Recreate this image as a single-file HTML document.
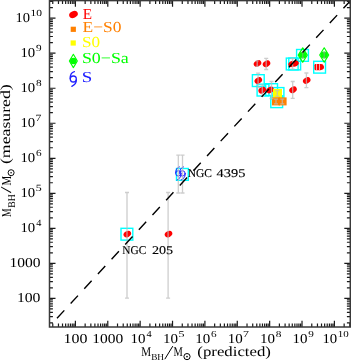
<!DOCTYPE html><html><head><meta charset="utf-8"><style>html,body{margin:0;padding:0;background:#fff;overflow:hidden}svg{display:block;will-change:transform}text{font-family:"Liberation Serif",serif;text-rendering:geometricPrecision}</style></head><body><svg width="351" height="361" viewBox="0 0 351 361"><rect x="0" y="0" width="351" height="361" fill="#fff"/><rect x="252.40" y="74.70" width="11.8" height="11.8" fill="none" stroke="#00ffff" stroke-width="1.4"/><rect x="257.10" y="84.20" width="11.8" height="11.8" fill="none" stroke="#00ffff" stroke-width="1.4"/><rect x="265.70" y="83.70" width="11.8" height="11.8" fill="none" stroke="#00ffff" stroke-width="1.4"/><rect x="272.10" y="87.60" width="11.8" height="11.8" fill="none" stroke="#00ffff" stroke-width="1.4"/><rect x="270.80" y="95.80" width="11.8" height="11.8" fill="none" stroke="#00ffff" stroke-width="1.4"/><rect x="286.30" y="58.10" width="11.8" height="11.8" fill="none" stroke="#00ffff" stroke-width="1.4"/><rect x="288.80" y="58.10" width="11.8" height="11.8" fill="none" stroke="#00ffff" stroke-width="1.4"/><rect x="296.60" y="49.50" width="11.8" height="11.8" fill="none" stroke="#00ffff" stroke-width="1.4"/><rect x="313.70" y="61.30" width="11.8" height="11.8" fill="none" stroke="#00ffff" stroke-width="1.4"/><rect x="121.00" y="228.30" width="11.8" height="11.8" fill="none" stroke="#00ffff" stroke-width="1.4"/><rect x="176.50" y="168.50" width="11.8" height="11.8" fill="none" stroke="#00ffff" stroke-width="1.4"/><ellipse cx="257.5" cy="63.5" rx="4.0" ry="3.0" transform="rotate(-30 257.5 63.5)" fill="#ff0000"/><ellipse cx="266.5" cy="63.8" rx="4.0" ry="3.0" transform="rotate(-30 266.5 63.8)" fill="#ff0000"/><ellipse cx="258.3" cy="80.5" rx="4.0" ry="3.0" transform="rotate(-30 258.3 80.5)" fill="#ff0000"/><ellipse cx="262.2" cy="90.2" rx="4.0" ry="3.0" transform="rotate(-30 262.2 90.2)" fill="#ff0000"/><ellipse cx="270.0" cy="90.0" rx="4.0" ry="3.0" transform="rotate(-30 270.0 90.0)" fill="#ff0000"/><ellipse cx="291.8" cy="64.0" rx="3.6" ry="2.8" transform="rotate(-30 291.8 64.0)" fill="#ff0000"/><ellipse cx="295.3" cy="63.6" rx="3.6" ry="2.8" transform="rotate(-30 295.3 63.6)" fill="#ff0000"/><ellipse cx="306.7" cy="80.5" rx="4.0" ry="3.0" transform="rotate(-30 306.7 80.5)" fill="#ff0000"/><ellipse cx="293.0" cy="89.8" rx="4.0" ry="3.0" transform="rotate(-30 293.0 89.8)" fill="#ff0000"/><rect x="314.5" y="64.1" width="4" height="6.1" rx="1.2" fill="#ff0000"/><ellipse cx="318.6" cy="67.1" rx="3.6" ry="3.1" transform="rotate(0 318.6 67.1)" fill="#ff0000"/><ellipse cx="320.4" cy="67.1" rx="3.6" ry="3.1" transform="rotate(-15 320.4 67.1)" fill="#ff0000"/><ellipse cx="127.3" cy="234.1" rx="4.0" ry="3.0" transform="rotate(-30 127.3 234.1)" fill="#ff0000"/><ellipse cx="168.5" cy="234.1" rx="4.0" ry="3.0" transform="rotate(-30 168.5 234.1)" fill="#ff0000"/><rect x="273.00" y="89.00" width="9" height="9" fill="#ffff00"/><rect x="272.00" y="97.40" width="8" height="8" fill="#ff8000"/><rect x="278.60" y="97.40" width="8" height="8" fill="#ff8000"/><path d="M257.2,60.8V66.3M255.7,60.8H258.7M255.7,66.3H258.7" stroke="#bcbcbc" stroke-width="1.3" fill="none" stroke-opacity="0.75"/><path d="M266.2,58.4V69.5M264.2,58.4H268.2M264.2,69.5H268.2" stroke="#bcbcbc" stroke-width="1.3" fill="none" stroke-opacity="0.75"/><path d="M258.1,73.2V87.5M256.1,73.2H260.1M256.1,87.5H260.1" stroke="#bcbcbc" stroke-width="1.3" fill="none" stroke-opacity="0.75"/><path d="M271.5,81.5V98.5M269.5,81.5H273.5M269.5,98.5H273.5" stroke="#bcbcbc" stroke-width="1.3" fill="none" stroke-opacity="0.75"/><path d="M262.3,84.8V96.0M260.55,84.8H264.05M260.55,96.0H264.05" stroke="#bcbcbc" stroke-width="1.3" fill="none" stroke-opacity="0.75"/><path d="M277.3,90.6V96.3M275.3,90.6H279.3M275.3,96.3H279.3" stroke="#bcbcbc" stroke-width="1.3" fill="none" stroke-opacity="0.75"/><path d="M276.0,99.1V103.8M274.0,99.1H278.0M274.0,103.8H278.0" stroke="#bcbcbc" stroke-width="1.3" fill="none" stroke-opacity="0.75"/><path d="M282.3,99.1V103.8M280.3,99.1H284.3M280.3,103.8H284.3" stroke="#bcbcbc" stroke-width="1.3" fill="none" stroke-opacity="0.75"/><path d="M292.6,58.5V69.2M290.6,58.5H294.6M290.6,69.2H294.6" stroke="#bcbcbc" stroke-width="1.3" fill="none" stroke-opacity="0.75"/><path d="M306.4,73.0V87.6M304.4,73.0H308.4M304.4,87.6H308.4" stroke="#bcbcbc" stroke-width="1.3" fill="none" stroke-opacity="0.75"/><path d="M292.7,81.5V98.4M290.7,81.5H294.7M290.7,98.4H294.7" stroke="#bcbcbc" stroke-width="1.3" fill="none" stroke-opacity="0.75"/><path d="M316.5,64.6V69.6M316.1,64.6H316.9M316.1,69.6H316.9" stroke="#f4d4d4" stroke-width="0.8" fill="none"/><path d="M319.5,64.6V69.6M319.1,64.6H319.9M319.1,69.6H319.9" stroke="#f4d4d4" stroke-width="0.8" fill="none"/><path d="M127.0,192.5V298.2M125.0,192.5H129.0M125.0,298.2H129.0" stroke="#bcbcbc" stroke-width="1.3" fill="none" stroke-opacity="0.75"/><path d="M168.1,192.5V298.2M166.1,192.5H170.1M166.1,298.2H170.1" stroke="#bcbcbc" stroke-width="1.3" fill="none" stroke-opacity="0.75"/><ellipse cx="302.75" cy="55.1" rx="3.78" ry="3.46" fill="#00ff00"/><path d="M302.75,47.9L307.25,55.1L302.75,62.300000000000004L298.25,55.1Z" fill="none" stroke="#00ff00" stroke-width="1.2" stroke-linejoin="round"/><path d="M302.75,52.6V57.6M301.45,52.6H304.05M301.45,57.6H304.05" stroke="#80b080" stroke-width="1.1" fill="none" stroke-opacity="0.75"/><ellipse cx="324.2" cy="55.0" rx="3.78" ry="3.46" fill="#00ff00"/><path d="M324.2,47.8L328.7,55.0L324.2,62.2L319.7,55.0Z" fill="none" stroke="#00ff00" stroke-width="1.2" stroke-linejoin="round"/><path d="M324.2,52.6V57.6M322.9,52.6H325.5M322.9,57.6H325.5" stroke="#80b080" stroke-width="1.1" fill="none" stroke-opacity="0.75"/><g transform="translate(178.4 173.4) scale(0.9)" fill="none" stroke="#2020ff" stroke-width="1.11" stroke-linecap="round"><path d="M1.1,-7.3 C-1.8,-6.6 -3.2,-3.6 -3.1,-0.3"/><circle cx="0" cy="0" r="3"/><path d="M3.0,1 C3.2,4.2 0.8,6.2 -1.5,7.3"/></g><g transform="translate(182.5 173.4) scale(0.9)" fill="none" stroke="#2020ff" stroke-width="1.11" stroke-linecap="round"><path d="M1.1,-7.3 C-1.8,-6.6 -3.2,-3.6 -3.1,-0.3"/><circle cx="0" cy="0" r="3"/><path d="M3.0,1 C3.2,4.2 0.8,6.2 -1.5,7.3"/></g><path d="M178.3,155.2V193.0M176.3,155.2H180.3M176.3,193.0H180.3" stroke="#bcbcbc" stroke-width="1.3" fill="none" stroke-opacity="0.75"/><path d="M182.5,155.2V193.0M180.5,155.2H184.5M180.5,193.0H184.5" stroke="#bcbcbc" stroke-width="1.3" fill="none" stroke-opacity="0.75"/><path d="M57.0,318.3L350.0,1.2" stroke="#000" stroke-width="1.4" stroke-dasharray="10.8 9.3" fill="none"/><path d="M52.77,327.0V323.6M52.77,0.6V4.0M49.5,322.84H52.9M350.3,322.84H346.90000000000003M58.47,327.0V323.6M58.47,0.6V4.0M49.5,316.67H52.9M350.3,316.67H346.90000000000003M62.52,327.0V323.6M62.52,0.6V4.0M49.5,312.30H52.9M350.3,312.30H346.90000000000003M65.65,327.0V323.6M65.65,0.6V4.0M49.5,308.90H52.9M350.3,308.90H346.90000000000003M68.22,327.0V323.6M68.22,0.6V4.0M49.5,306.13H52.9M350.3,306.13H346.90000000000003M70.39,327.0V323.6M70.39,0.6V4.0M49.5,303.78H52.9M350.3,303.78H346.90000000000003M72.26,327.0V323.6M72.26,0.6V4.0M49.5,301.75H52.9M350.3,301.75H346.90000000000003M73.92,327.0V323.6M73.92,0.6V4.0M49.5,299.96H52.9M350.3,299.96H346.90000000000003M75.40,327.0V320.8M75.40,0.6V6.8M49.5,298.36H55.5M350.3,298.36H344.3M85.15,327.0V323.6M85.15,0.6V4.0M49.5,287.82H52.9M350.3,287.82H346.90000000000003M90.85,327.0V323.6M90.85,0.6V4.0M49.5,281.65H52.9M350.3,281.65H346.90000000000003M94.89,327.0V323.6M94.89,0.6V4.0M49.5,277.28H52.9M350.3,277.28H346.90000000000003M98.03,327.0V323.6M98.03,0.6V4.0M49.5,273.88H52.9M350.3,273.88H346.90000000000003M100.59,327.0V323.6M100.59,0.6V4.0M49.5,271.11H52.9M350.3,271.11H346.90000000000003M102.76,327.0V323.6M102.76,0.6V4.0M49.5,268.76H52.9M350.3,268.76H346.90000000000003M104.64,327.0V323.6M104.64,0.6V4.0M49.5,266.73H52.9M350.3,266.73H346.90000000000003M106.29,327.0V323.6M106.29,0.6V4.0M49.5,264.94H52.9M350.3,264.94H346.90000000000003M107.78,327.0V320.8M107.78,0.6V6.8M49.5,263.34H55.5M350.3,263.34H344.3M117.52,327.0V323.6M117.52,0.6V4.0M49.5,252.80H52.9M350.3,252.80H346.90000000000003M123.22,327.0V323.6M123.22,0.6V4.0M49.5,246.63H52.9M350.3,246.63H346.90000000000003M127.27,327.0V323.6M127.27,0.6V4.0M49.5,242.26H52.9M350.3,242.26H346.90000000000003M130.40,327.0V323.6M130.40,0.6V4.0M49.5,238.86H52.9M350.3,238.86H346.90000000000003M132.97,327.0V323.6M132.97,0.6V4.0M49.5,236.09H52.9M350.3,236.09H346.90000000000003M135.14,327.0V323.6M135.14,0.6V4.0M49.5,233.74H52.9M350.3,233.74H346.90000000000003M137.01,327.0V323.6M137.01,0.6V4.0M49.5,231.71H52.9M350.3,231.71H346.90000000000003M138.67,327.0V323.6M138.67,0.6V4.0M49.5,229.92H52.9M350.3,229.92H346.90000000000003M140.15,327.0V320.8M140.15,0.6V6.8M49.5,228.32H55.5M350.3,228.32H344.3M149.90,327.0V323.6M149.90,0.6V4.0M49.5,217.78H52.9M350.3,217.78H346.90000000000003M155.60,327.0V323.6M155.60,0.6V4.0M49.5,211.61H52.9M350.3,211.61H346.90000000000003M159.64,327.0V323.6M159.64,0.6V4.0M49.5,207.24H52.9M350.3,207.24H346.90000000000003M162.78,327.0V323.6M162.78,0.6V4.0M49.5,203.84H52.9M350.3,203.84H346.90000000000003M165.34,327.0V323.6M165.34,0.6V4.0M49.5,201.07H52.9M350.3,201.07H346.90000000000003M167.51,327.0V323.6M167.51,0.6V4.0M49.5,198.72H52.9M350.3,198.72H346.90000000000003M169.39,327.0V323.6M169.39,0.6V4.0M49.5,196.69H52.9M350.3,196.69H346.90000000000003M171.04,327.0V323.6M171.04,0.6V4.0M49.5,194.90H52.9M350.3,194.90H346.90000000000003M172.53,327.0V320.8M172.53,0.6V6.8M49.5,193.30H55.5M350.3,193.30H344.3M182.27,327.0V323.6M182.27,0.6V4.0M49.5,182.76H52.9M350.3,182.76H346.90000000000003M187.97,327.0V323.6M187.97,0.6V4.0M49.5,176.59H52.9M350.3,176.59H346.90000000000003M192.02,327.0V323.6M192.02,0.6V4.0M49.5,172.22H52.9M350.3,172.22H346.90000000000003M195.15,327.0V323.6M195.15,0.6V4.0M49.5,168.82H52.9M350.3,168.82H346.90000000000003M197.72,327.0V323.6M197.72,0.6V4.0M49.5,166.05H52.9M350.3,166.05H346.90000000000003M199.89,327.0V323.6M199.89,0.6V4.0M49.5,163.70H52.9M350.3,163.70H346.90000000000003M201.76,327.0V323.6M201.76,0.6V4.0M49.5,161.67H52.9M350.3,161.67H346.90000000000003M203.42,327.0V323.6M203.42,0.6V4.0M49.5,159.88H52.9M350.3,159.88H346.90000000000003M204.90,327.0V320.8M204.90,0.6V6.8M49.5,158.28H55.5M350.3,158.28H344.3M214.65,327.0V323.6M214.65,0.6V4.0M49.5,147.74H52.9M350.3,147.74H346.90000000000003M220.35,327.0V323.6M220.35,0.6V4.0M49.5,141.57H52.9M350.3,141.57H346.90000000000003M224.39,327.0V323.6M224.39,0.6V4.0M49.5,137.20H52.9M350.3,137.20H346.90000000000003M227.53,327.0V323.6M227.53,0.6V4.0M49.5,133.80H52.9M350.3,133.80H346.90000000000003M230.09,327.0V323.6M230.09,0.6V4.0M49.5,131.03H52.9M350.3,131.03H346.90000000000003M232.26,327.0V323.6M232.26,0.6V4.0M49.5,128.68H52.9M350.3,128.68H346.90000000000003M234.14,327.0V323.6M234.14,0.6V4.0M49.5,126.65H52.9M350.3,126.65H346.90000000000003M235.79,327.0V323.6M235.79,0.6V4.0M49.5,124.86H52.9M350.3,124.86H346.90000000000003M237.28,327.0V320.8M237.28,0.6V6.8M49.5,123.26H55.5M350.3,123.26H344.3M247.02,327.0V323.6M247.02,0.6V4.0M49.5,112.72H52.9M350.3,112.72H346.90000000000003M252.72,327.0V323.6M252.72,0.6V4.0M49.5,106.55H52.9M350.3,106.55H346.90000000000003M256.77,327.0V323.6M256.77,0.6V4.0M49.5,102.18H52.9M350.3,102.18H346.90000000000003M259.90,327.0V323.6M259.90,0.6V4.0M49.5,98.78H52.9M350.3,98.78H346.90000000000003M262.47,327.0V323.6M262.47,0.6V4.0M49.5,96.01H52.9M350.3,96.01H346.90000000000003M264.64,327.0V323.6M264.64,0.6V4.0M49.5,93.66H52.9M350.3,93.66H346.90000000000003M266.51,327.0V323.6M266.51,0.6V4.0M49.5,91.63H52.9M350.3,91.63H346.90000000000003M268.17,327.0V323.6M268.17,0.6V4.0M49.5,89.84H52.9M350.3,89.84H346.90000000000003M269.65,327.0V320.8M269.65,0.6V6.8M49.5,88.24H55.5M350.3,88.24H344.3M279.40,327.0V323.6M279.40,0.6V4.0M49.5,77.70H52.9M350.3,77.70H346.90000000000003M285.10,327.0V323.6M285.10,0.6V4.0M49.5,71.53H52.9M350.3,71.53H346.90000000000003M289.14,327.0V323.6M289.14,0.6V4.0M49.5,67.16H52.9M350.3,67.16H346.90000000000003M292.28,327.0V323.6M292.28,0.6V4.0M49.5,63.76H52.9M350.3,63.76H346.90000000000003M294.84,327.0V323.6M294.84,0.6V4.0M49.5,60.99H52.9M350.3,60.99H346.90000000000003M297.01,327.0V323.6M297.01,0.6V4.0M49.5,58.64H52.9M350.3,58.64H346.90000000000003M298.89,327.0V323.6M298.89,0.6V4.0M49.5,56.61H52.9M350.3,56.61H346.90000000000003M300.54,327.0V323.6M300.54,0.6V4.0M49.5,54.82H52.9M350.3,54.82H346.90000000000003M302.02,327.0V320.8M302.02,0.6V6.8M49.5,53.22H55.5M350.3,53.22H344.3M311.77,327.0V323.6M311.77,0.6V4.0M49.5,42.68H52.9M350.3,42.68H346.90000000000003M317.47,327.0V323.6M317.47,0.6V4.0M49.5,36.51H52.9M350.3,36.51H346.90000000000003M321.52,327.0V323.6M321.52,0.6V4.0M49.5,32.14H52.9M350.3,32.14H346.90000000000003M324.65,327.0V323.6M324.65,0.6V4.0M49.5,28.74H52.9M350.3,28.74H346.90000000000003M327.22,327.0V323.6M327.22,0.6V4.0M49.5,25.97H52.9M350.3,25.97H346.90000000000003M329.39,327.0V323.6M329.39,0.6V4.0M49.5,23.62H52.9M350.3,23.62H346.90000000000003M331.26,327.0V323.6M331.26,0.6V4.0M49.5,21.59H52.9M350.3,21.59H346.90000000000003M332.92,327.0V323.6M332.92,0.6V4.0M49.5,19.80H52.9M350.3,19.80H346.90000000000003M334.40,327.0V320.8M334.40,0.6V6.8M49.5,18.20H55.5M350.3,18.20H344.3M344.15,327.0V323.6M344.15,0.6V4.0M49.5,7.66H52.9M350.3,7.66H346.90000000000003M349.85,327.0V323.6M349.85,0.6V4.0M49.5,1.49H52.9M350.3,1.49H346.90000000000003" stroke="#1a1a1a" stroke-width="1.2" fill="none"/><rect x="49.5" y="0.6" width="300.80" height="326.40" fill="none" stroke="#3a3a3a" stroke-width="1.5"/><text x="20.40" y="232.00" font-size="13.63" fill="#000" textLength="14.76" lengthAdjust="spacingAndGlyphs">10</text><text x="36.20" y="226.00" font-size="9.57" fill="#000" textLength="5.16" lengthAdjust="spacingAndGlyphs">4</text><text x="20.40" y="197.00" font-size="13.63" fill="#000" textLength="14.76" lengthAdjust="spacingAndGlyphs">10</text><text x="35.71" y="191.00" font-size="9.48" fill="#000" textLength="5.96" lengthAdjust="spacingAndGlyphs">5</text><text x="20.40" y="162.00" font-size="13.63" fill="#000" textLength="14.76" lengthAdjust="spacingAndGlyphs">10</text><text x="35.92" y="156.00" font-size="9.38" fill="#000" textLength="5.62" lengthAdjust="spacingAndGlyphs">6</text><text x="20.40" y="127.00" font-size="13.63" fill="#000" textLength="14.76" lengthAdjust="spacingAndGlyphs">10</text><text x="35.62" y="121.00" font-size="9.62" fill="#000" textLength="5.92" lengthAdjust="spacingAndGlyphs">7</text><text x="20.40" y="92.00" font-size="13.63" fill="#000" textLength="14.76" lengthAdjust="spacingAndGlyphs">10</text><text x="35.97" y="86.00" font-size="9.34" fill="#000" textLength="5.66" lengthAdjust="spacingAndGlyphs">8</text><text x="20.40" y="57.00" font-size="13.63" fill="#000" textLength="14.76" lengthAdjust="spacingAndGlyphs">10</text><text x="36.04" y="51.00" font-size="9.38" fill="#000" textLength="5.62" lengthAdjust="spacingAndGlyphs">9</text><text x="15.42" y="22.00" font-size="13.63" fill="#000" textLength="14.53" lengthAdjust="spacingAndGlyphs">10</text><text x="30.59" y="16.00" font-size="9.34" fill="#000" textLength="11.44" lengthAdjust="spacingAndGlyphs">10</text><text x="9.44" y="267.00" font-size="13.63" fill="#000" textLength="31.06" lengthAdjust="spacingAndGlyphs">1000</text><text x="16.92" y="302.00" font-size="13.63" fill="#000" textLength="23.58" lengthAdjust="spacingAndGlyphs">100</text><text x="63.60" y="343.00" font-size="13.63" fill="#000" textLength="23.91" lengthAdjust="spacingAndGlyphs">100</text><text x="92.31" y="343.00" font-size="13.63" fill="#000" textLength="30.95" lengthAdjust="spacingAndGlyphs">1000</text><text x="130.53" y="343.00" font-size="13.63" fill="#000" textLength="14.99" lengthAdjust="spacingAndGlyphs">10</text><text x="146.55" y="337.00" font-size="9.27" fill="#000" textLength="5.16" lengthAdjust="spacingAndGlyphs">4</text><text x="162.91" y="343.00" font-size="13.63" fill="#000" textLength="14.99" lengthAdjust="spacingAndGlyphs">10</text><text x="178.43" y="337.00" font-size="9.18" fill="#000" textLength="5.96" lengthAdjust="spacingAndGlyphs">5</text><text x="195.28" y="343.00" font-size="13.63" fill="#000" textLength="14.99" lengthAdjust="spacingAndGlyphs">10</text><text x="211.02" y="337.00" font-size="9.08" fill="#000" textLength="5.62" lengthAdjust="spacingAndGlyphs">6</text><text x="227.66" y="343.00" font-size="13.63" fill="#000" textLength="14.99" lengthAdjust="spacingAndGlyphs">10</text><text x="243.09" y="337.00" font-size="9.32" fill="#000" textLength="5.92" lengthAdjust="spacingAndGlyphs">7</text><text x="260.03" y="343.00" font-size="13.63" fill="#000" textLength="14.99" lengthAdjust="spacingAndGlyphs">10</text><text x="275.82" y="337.00" font-size="9.04" fill="#000" textLength="5.66" lengthAdjust="spacingAndGlyphs">8</text><text x="292.41" y="343.00" font-size="13.63" fill="#000" textLength="14.99" lengthAdjust="spacingAndGlyphs">10</text><text x="308.26" y="337.00" font-size="9.08" fill="#000" textLength="5.62" lengthAdjust="spacingAndGlyphs">9</text><text x="322.40" y="343.00" font-size="13.63" fill="#000" textLength="14.76" lengthAdjust="spacingAndGlyphs">10</text><text x="337.73" y="337.00" font-size="9.04" fill="#000" textLength="10.98" lengthAdjust="spacingAndGlyphs">10</text><g transform="translate(141.5 356.0)"><text x="-0.22" y="0.00" font-size="13.29" fill="#000" textLength="9.84" lengthAdjust="spacingAndGlyphs">M</text><text x="9.63" y="4.47" font-size="9.27" fill="#000" textLength="12.84" lengthAdjust="spacingAndGlyphs">BH</text><path d="M23.3,3.2L31.3,-9.9" stroke="#000" stroke-width="1.0" fill="none"/><text x="31.90" y="0.00" font-size="13.29" fill="#000" textLength="9.31" lengthAdjust="spacingAndGlyphs">M</text><circle cx="45.5" cy="0.6" r="3.1" fill="none" stroke="#000" stroke-width="1.0"/><circle cx="45.5" cy="0.6" r="0.85" fill="#000"/><text x="55.86" y="0.04" font-size="13.90" fill="#000" textLength="73.57" lengthAdjust="spacingAndGlyphs">(predicted)</text></g><g transform="translate(10.6 216.7) rotate(-90)"><text x="-0.28" y="0.00" font-size="13.59" fill="#000" textLength="8.56" lengthAdjust="spacingAndGlyphs">M</text><text x="8.92" y="4.17" font-size="10.34" fill="#000" textLength="13.57" lengthAdjust="spacingAndGlyphs">BH</text><text x="23.40" y="0.45" font-size="15.10" fill="#000" textLength="6.90" lengthAdjust="spacingAndGlyphs">/</text><text x="31.19" y="0.00" font-size="13.59" fill="#000" textLength="9.63" lengthAdjust="spacingAndGlyphs">M</text><circle cx="44.0" cy="0.5" r="3.0" fill="none" stroke="#000" stroke-width="0.95"/><circle cx="44.0" cy="0.5" r="0.8" fill="#000"/><text x="52.62" y="-0.26" font-size="13.90" fill="#000" textLength="79.86" lengthAdjust="spacingAndGlyphs">(measured)</text></g><ellipse cx="73.5" cy="14.5" rx="4.5" ry="3.3" transform="rotate(-25 73.5 14.5)" fill="#ff0000"/><text x="82.66" y="19.00" font-size="15.30" fill="#ff0000" textLength="9.30" lengthAdjust="spacingAndGlyphs">E</text><rect x="70.70" y="26.70" width="5.2" height="5.2" fill="#ff8000"/><text x="82.60" y="32.00" font-size="15.30" fill="#ff8000" textLength="38.97" lengthAdjust="spacingAndGlyphs">E&#8722;S0</text><rect x="70.60" y="40.40" width="5.2" height="5.2" fill="#ffff00"/><text x="81.95" y="47.00" font-size="15.30" fill="#ffff00" textLength="18.10" lengthAdjust="spacingAndGlyphs">S0</text><ellipse cx="73.35" cy="60.95" rx="3.36" ry="3.22" fill="#00ff00"/><path d="M73.35,54.25L77.35,60.95L73.35,67.65L69.35,60.95Z" fill="none" stroke="#00ff00" stroke-width="1.1" stroke-linejoin="round"/><text x="81.90" y="63.00" font-size="15.30" fill="#00ff00" textLength="46.94" lengthAdjust="spacingAndGlyphs">S0&#8722;Sa</text><g transform="translate(73.3 79.0) scale(1.0)" fill="none" stroke="#2020ff" stroke-width="1.30" stroke-linecap="round"><path d="M1.1,-7.3 C-1.8,-6.6 -3.2,-3.6 -3.1,-0.3"/><circle cx="0" cy="0" r="3"/><path d="M3.0,1 C3.2,4.2 0.8,6.2 -1.5,7.3"/></g><text x="81.83" y="82.00" font-size="15.30" fill="#2020ff" textLength="10.54" lengthAdjust="spacingAndGlyphs">S</text><text x="187.67" y="177.00" font-size="11.91" fill="#000" stroke="#000" stroke-width="0.12" textLength="24.27" lengthAdjust="spacingAndGlyphs">NGC</text><text x="216.62" y="177.00" font-size="11.91" fill="#000" stroke="#000" stroke-width="0.12" textLength="28.74" lengthAdjust="spacingAndGlyphs">4395</text><text x="122.27" y="254.00" font-size="11.91" fill="#000" stroke="#000" stroke-width="0.12" textLength="23.95" lengthAdjust="spacingAndGlyphs">NGC</text><text x="151.98" y="254.00" font-size="11.86" fill="#000" stroke="#000" stroke-width="0.12" textLength="21.17" lengthAdjust="spacingAndGlyphs">205</text></svg></body></html>
